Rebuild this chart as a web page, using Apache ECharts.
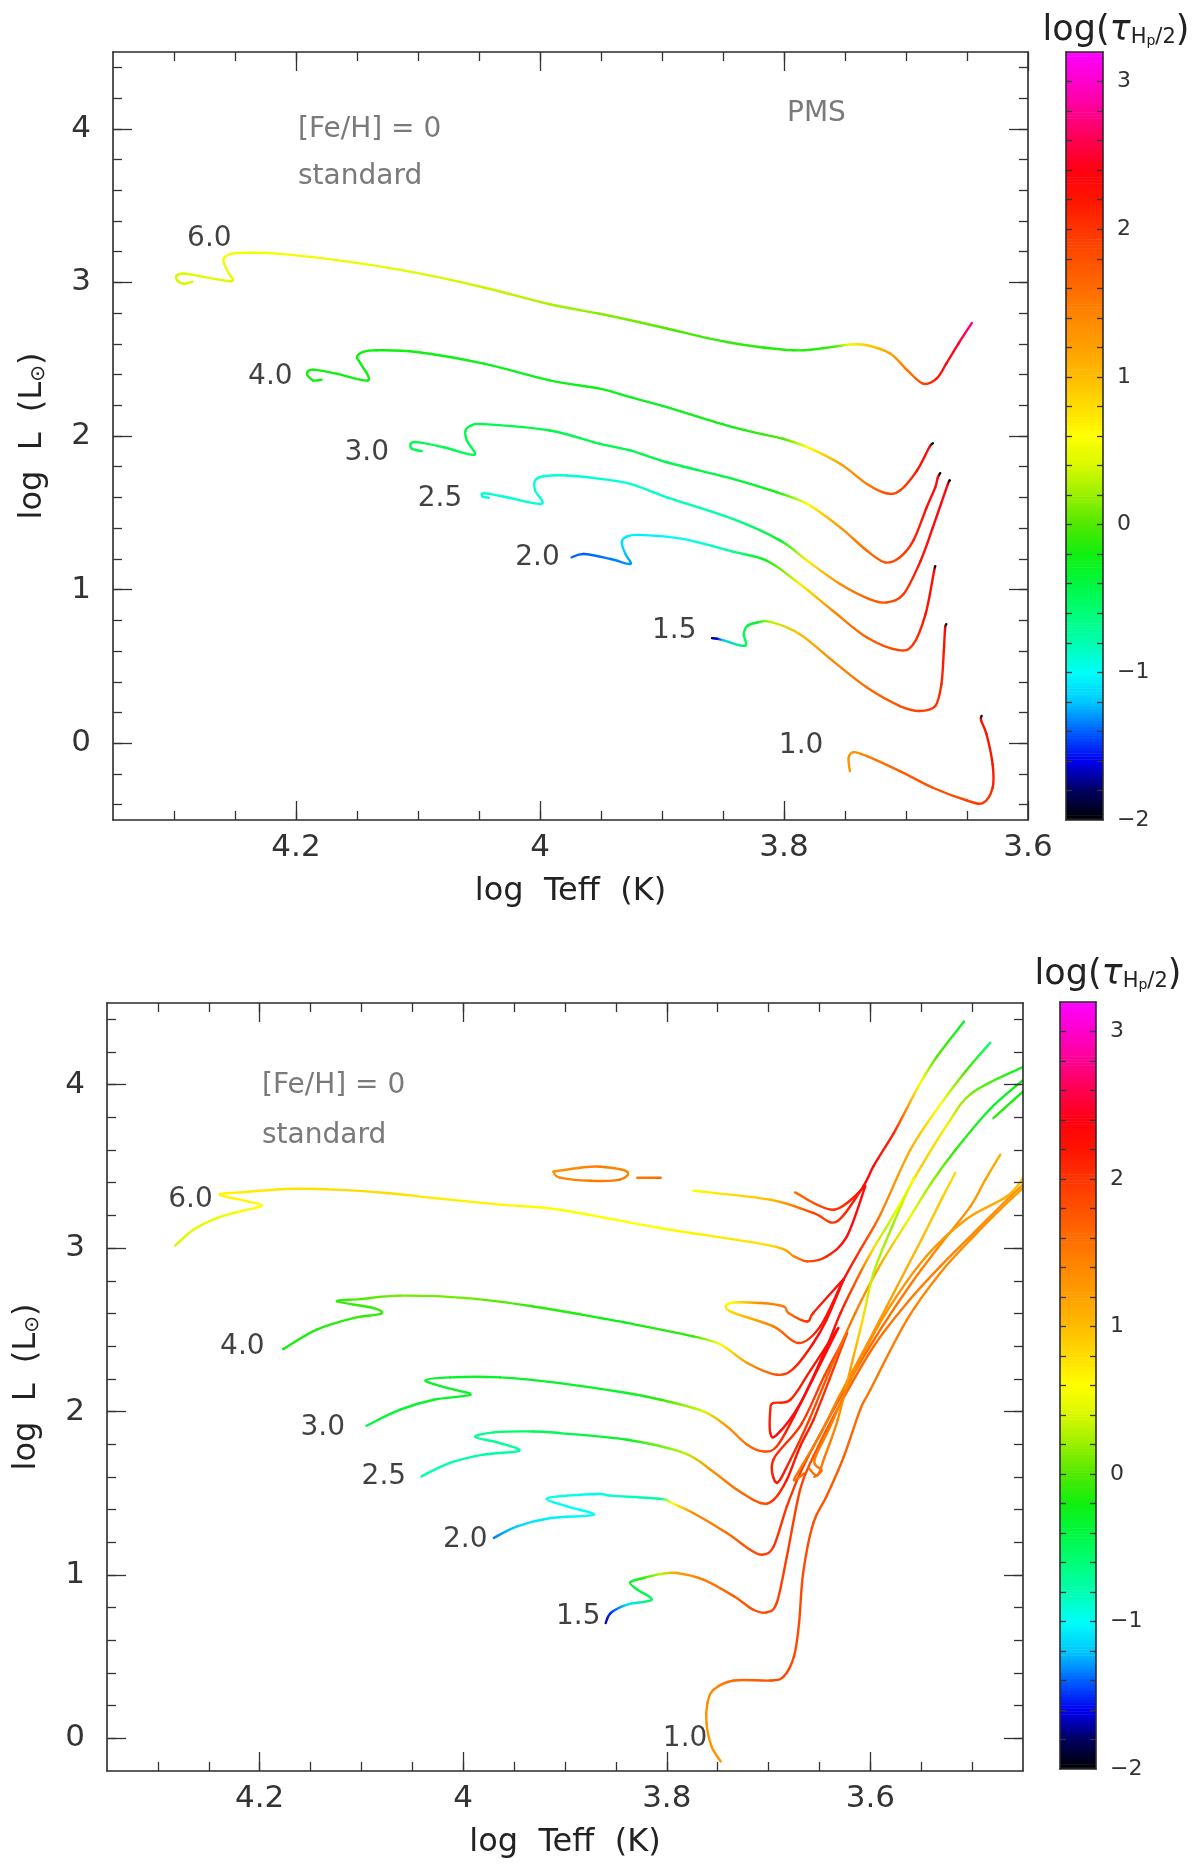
<!DOCTYPE html>
<html>
<head>
<meta charset="utf-8">
<title>Tracks coloured by log(tau Hp/2)</title>
<script src="https://cdn.jsdelivr.net/npm/echarts@6/dist/echarts.min.js"></script>
<style>
  html, body { margin: 0; padding: 0; background: #fff; }
  #chart { width: 1200px; height: 1865px; }
</style>
</head>
<body>
<div id="chart"></div>
<script>
// colour scale of log(tau_Hp/2): one stop every 0.2 from -2 to 3.2
var tauMin = -2, tauMax = 3.2;
var tauColors = ['#000000', '#000060', '#0000f0', '#0060ff', '#00c8ff', '#00fff8', '#00ffb0',
  '#00ff78', '#00f840', '#10f010', '#50e800', '#98f000', '#d8f800', '#ffff00', '#ffdc00',
  '#ffbc00', '#ffa000', '#ff8800', '#ff6c00', '#ff5000', '#ff3400', '#ff1400', '#ff0010',
  '#ff0050', '#ff0090', '#ff00cc', '#ff00ff'];

// tick labels
var xMajor = [3.6, 3.8, 4, 4.2];
var yMajor = [0, 1, 2, 3, 4];
var tauLabels = [-2, -1, 0, 1, 2, 3];

// mass labels and where they sit [log Teff, log L]
var massNames = ['6.0', '4.0', '3.0', '2.5', '2.0', '1.5', '1.0'];
var pmsLabelPos = [[4.271, 3.287], [4.221, 2.384], [4.142, 1.888], [4.082, 1.591], [4.002, 1.206], [3.890, 0.732], [3.786, -0.019]];
var msLabelPos = [[4.268, 3.296], [4.217, 2.398], [4.138, 1.903], [4.078, 1.603], [3.998, 1.215], [3.887, 0.746], [3.782, -0.004]];

// ---- top panel, PMS tracks: [log Teff, log L, log tau] ----
var pms60 = [[3.646, 2.736, 2.75], [3.657, 2.602, 2.5], [3.667, 2.471, 2.35], [3.675, 2.373, 2.2], [3.686, 2.341, 1.9],
  [3.699, 2.428, 1.5], [3.713, 2.537, 1.2], [3.732, 2.591, 0.9], [3.747, 2.595, 0.5], [3.760, 2.580, -0.1],
  [3.792, 2.558, -0.15], [3.847, 2.612, -0.1], [3.896, 2.700, 0.0], [3.926, 2.754, 0.1], [3.951, 2.796, 0.15],
  [3.992, 2.858, 0.25], [4.046, 2.967, 0.35], [4.101, 3.062, 0.45], [4.156, 3.134, 0.5], [4.210, 3.184, 0.55],
  [4.238, 3.193, 0.55], [4.253, 3.186, 0.55], [4.259, 3.160, 0.55], [4.259, 3.124, 0.5], [4.255, 3.058, 0.5],
  [4.253, 3.008, 0.45], [4.276, 3.036, 0.45], [4.292, 3.058, 0.45], [4.298, 3.043, 0.4], [4.297, 3.010, 0.4],
  [4.292, 2.991, 0.4], [4.285, 3.004, 0.4]];
var pms40 = [[3.678, 1.953, -2], [3.681, 1.925, 2.3], [3.691, 1.775, 2.2], [3.705, 1.645, 1.9], [3.716, 1.627, 1.8],
  [3.732, 1.688, 1.5], [3.754, 1.819, 1.2], [3.781, 1.927, 0.6], [3.801, 1.982, 0.0], [3.842, 2.058, -0.2],
  [3.896, 2.188, -0.25], [3.926, 2.253, -0.25], [3.951, 2.308, -0.25], [3.992, 2.362, -0.25], [4.046, 2.471, -0.25],
  [4.101, 2.547, -0.2], [4.134, 2.558, -0.2], [4.145, 2.547, -0.2], [4.150, 2.514, -0.2], [4.147, 2.471, -0.2],
  [4.141, 2.362, -0.2], [4.167, 2.406, -0.2], [4.186, 2.432, -0.2], [4.191, 2.406, -0.2], [4.186, 2.362, -0.2],
  [4.179, 2.367, -0.2]];
var pms30 = [[3.672, 1.758, -2], [3.674, 1.728, 2.3], [3.676, 1.666, 2.3], [3.683, 1.536, 2.25], [3.694, 1.319, 2.1],
  [3.705, 1.211, 1.9], [3.717, 1.177, 1.8], [3.732, 1.253, 1.6], [3.754, 1.405, 1.3], [3.781, 1.558, 0.6],
  [3.806, 1.634, -0.2], [3.842, 1.721, -0.4], [3.896, 1.829, -0.45], [3.926, 1.906, -0.45], [3.951, 1.949, -0.45],
  [3.992, 2.036, -0.45], [4.046, 2.077, -0.45], [4.056, 2.069, -0.45], [4.061, 2.036, -0.45], [4.060, 1.971, -0.45],
  [4.054, 1.878, -0.45], [4.079, 1.927, -0.45], [4.101, 1.960, -0.45], [4.106, 1.949, -0.45], [4.105, 1.917, -0.45],
  [4.097, 1.901, -0.45]];
var pms25 = [[3.664, 1.710, -2], [3.666, 1.680, 2.3], [3.678, 1.405, 2.3], [3.688, 1.188, 2.2], [3.702, 0.971, 2.0],
  [3.716, 0.916, 1.8], [3.730, 0.938, 1.7], [3.754, 1.036, 1.4], [3.781, 1.188, 0.7], [3.803, 1.319, -0.3],
  [3.842, 1.460, -0.7], [3.896, 1.601, -0.85], [3.926, 1.688, -0.9], [3.951, 1.721, -0.9], [3.978, 1.743, -0.9],
  [3.997, 1.738, -0.9], [4.004, 1.710, -0.9], [4.004, 1.645, -0.9], [3.999, 1.558, -0.9], [4.030, 1.606, -0.9],
  [4.046, 1.627, -0.9], [4.047, 1.606, -0.9], [4.042, 1.597, -0.9]];
var pms20 = [[3.676, 1.151, -2], [3.677, 1.120, 2.3], [3.684, 0.840, 2.2], [3.694, 0.645, 2.0], [3.706, 0.606, 1.9],
  [3.732, 0.688, 1.7], [3.760, 0.862, 1.4], [3.787, 1.036, 0.7], [3.814, 1.188, -0.2], [3.842, 1.247, -0.7],
  [3.883, 1.330, -1.0], [3.918, 1.356, -1.05], [3.929, 1.345, -1.05], [3.933, 1.308, -1.1], [3.930, 1.232, -1.2],
  [3.926, 1.167, -1.3], [3.942, 1.199, -1.35], [3.964, 1.232, -1.4], [3.974, 1.210, -1.4]];
var pms15 = [[3.667, 0.775, -2], [3.668, 0.745, 2.3], [3.669, 0.601, 2.2], [3.671, 0.384, 2.1], [3.676, 0.242, 2.0],
  [3.689, 0.210, 1.9], [3.705, 0.242, 1.8], [3.732, 0.362, 1.6], [3.760, 0.536, 1.4], [3.787, 0.710, 1.0],
  [3.811, 0.790, 0.3], [3.822, 0.786, -0.3], [3.830, 0.764, -0.4], [3.833, 0.710, -0.5], [3.832, 0.634, -0.5],
  [3.850, 0.671, -1.2], [3.855, 0.680, -1.6], [3.859, 0.684, -1.8]];
var pms10 = [[3.638, 0.177, -2], [3.6385, 0.150, 2.2], [3.634, 0.058, 2.2], [3.629, -0.138, 2.2], [3.629, -0.290, 2.1],
  [3.637, -0.389, 2.0], [3.650, -0.373, 1.9], [3.678, -0.290, 1.8], [3.705, -0.182, 1.7], [3.732, -0.084, 1.5],
  [3.743, -0.058, 1.3], [3.747, -0.095, 1.3], [3.746, -0.182, 1.3]];

// ---- bottom panel, MS and later: [log Teff, log L, log tau] ----
var ms60 = [[4.283, 3.015, 0.4], [4.265, 3.113, 0.45], [4.242, 3.184, 0.5], [4.219, 3.225, 0.55], [4.198, 3.259, 0.6],
  [4.212, 3.286, 0.65], [4.239, 3.327, 0.65], [4.219, 3.341, 0.7], [4.173, 3.362, 0.75], [4.127, 3.358, 0.8],
  [4.075, 3.337, 0.8], [4.029, 3.307, 0.7], [3.964, 3.266, 0.65], [3.905, 3.235, 0.6], [3.807, 3.123, 0.6],
  [3.698, 3.015, 0.8], [3.675, 2.949, 1.4], [3.662, 2.919, 1.8], [3.643, 2.949, 2.1], [3.623, 3.072, 2.3],
  [3.605, 3.378, 2.3]];
var ms60LoopA = [[3.605, 3.378, 2.3], [3.636, 3.235, 2.0], [3.674, 3.341, 1.6]];
var ms60LoopB = [[3.9115, 3.468, 1.3], [3.885, 3.492, 1.4], [3.865, 3.498, 1.5], [3.839, 3.468, 1.4], [3.846, 3.419, 1.5],
  [3.875, 3.412, 1.5], [3.905, 3.431, 1.4], [3.9115, 3.468, 1.3]];
var ms60Dash = [[3.829, 3.431, 1.5], [3.806, 3.431, 1.6]];
var ms60LoopC = [[3.774, 3.351, 0.6], [3.698, 3.296, 1.0], [3.656, 3.215, 1.9], [3.633, 3.163, 2.0], [3.607, 3.378, 2.3],
  [3.597, 3.500, 2.3], [3.577, 3.704, 2.1], [3.564, 3.857, 1.3], [3.551, 4.010, 0.6], [3.5345, 4.173, 0.0],
  [3.508, 4.387, -0.3]];
var ms40 = [[4.177, 2.382, -0.2], [4.144, 2.501, -0.15], [4.108, 2.572, -0.1], [4.081, 2.598, -0.1], [4.088, 2.633, -0.1],
  [4.124, 2.674, -0.1], [4.101, 2.688, 0.0], [4.062, 2.709, 0.1], [3.996, 2.694, 0.1], [3.931, 2.643, -0.1],
  [3.865, 2.572, -0.2], [3.839, 2.542, -0.2], [3.774, 2.460, -0.1], [3.747, 2.409, 0.6], [3.721, 2.297, 1.3],
  [3.692, 2.225, 1.8], [3.675, 2.266, 2.1], [3.656, 2.419, 2.3], [3.643, 2.562, 2.3], [3.6263, 2.807, 2.3]];
var ms40Loop = [[3.6263, 2.807, 2.3], [3.6295, 2.788, 2.3], [3.6558, 2.605, 2.1], [3.6622, 2.551, 2.0], [3.6804, 2.603, 1.6],
  [3.6853, 2.643, 1.5], [3.7081, 2.664, 1.4], [3.7376, 2.664, 0.6], [3.7376, 2.613, 0.8], [3.6953, 2.521, 1.5],
  [3.6705, 2.419, 1.9], [3.6492, 2.521, 2.2], [3.6263, 2.807, 2.3], [3.6099, 2.990, 2.0], [3.5902, 3.205, 1.5],
  [3.5607, 3.602, 1.1], [3.5313, 3.878, 0.6], [3.5067, 4.080, 0.0], [3.4822, 4.257, -0.6]];
var ms30 = [[4.095, 1.913, -0.4], [4.062, 2.011, -0.35], [4.029, 2.072, -0.3], [3.993, 2.103, -0.3], [4.016, 2.144, -0.3],
  [4.037, 2.190, -0.3], [4.013, 2.209, -0.3], [3.964, 2.209, -0.3], [3.905, 2.174, -0.3], [3.839, 2.113, -0.3],
  [3.806, 2.072, -0.1], [3.764, 2.001, 0.4], [3.741, 1.909, 1.3], [3.721, 1.797, 1.6], [3.705, 1.756, 1.8],
  [3.692, 1.786, 2.0], [3.675, 1.970, 2.3], [3.6315, 2.511, 2.3]];
var ms30Loop = [[3.6315, 2.511, 2.3], [3.659, 2.250, 2.2], [3.6786, 2.072, 2.1], [3.6953, 2.052, 2.1], [3.6983, 2.011, 2.1],
  [3.6983, 1.868, 2.2], [3.6917, 1.858, 2.3], [3.6688, 2.050, 2.3], [3.6426, 2.400, 2.3], [3.6295, 2.600, 2.2],
  [3.6099, 2.850, 1.6], [3.5968, 3.000, 0.8], [3.585, 3.120, 0.3], [3.570, 3.280, 0.6], [3.550, 3.500, 0.9],
  [3.525, 3.750, 0.7], [3.500, 3.950, 0.1], [3.4497, 4.110, -0.3]];
var ms25 = [[4.041, 1.603, -0.8], [4.013, 1.685, -0.8], [3.980, 1.736, -0.75], [3.945, 1.760, -0.75], [3.964, 1.807, -0.7],
  [3.988, 1.844, -0.7], [3.970, 1.872, -0.6], [3.931, 1.878, -0.5], [3.905, 1.868, -0.45], [3.839, 1.827, -0.3],
  [3.783, 1.746, 0.3], [3.757, 1.644, 1.3], [3.731, 1.521, 1.6], [3.708, 1.440, 1.8], [3.695, 1.460, 2.0],
  [3.682, 1.583, 2.2], [3.669, 1.786, 2.2], [3.6558, 1.950, 2.1], [3.640, 2.200, 2.0], [3.6229, 2.480, 1.9]];
var ms25Loop = [[3.6229, 2.480, 1.9], [3.645, 2.220, 1.9], [3.668, 1.920, 2.0], [3.6953, 1.705, 2.1], [3.6917, 1.564, 2.2],
  [3.6786, 1.705, 2.1], [3.660, 1.950, 1.9], [3.640, 2.250, 1.7], [3.615, 2.600, 1.5], [3.590, 2.900, 1.1],
  [3.560, 3.200, 0.5], [3.540, 3.400, 0.2], [3.5165, 3.600, -0.1], [3.4825, 3.850, -0.3], [3.4497, 4.030, -0.2]];
var ms20 = [[3.970, 1.226, -1.35], [3.947, 1.297, -1.15], [3.914, 1.348, -1.05], [3.872, 1.368, -1.0], [3.898, 1.419, -1.0],
  [3.918, 1.465, -0.95], [3.898, 1.485, -0.95], [3.865, 1.495, -0.95], [3.855, 1.485, -0.9], [3.806, 1.465, -0.7],
  [3.795, 1.440, 0.6], [3.774, 1.379, 1.4], [3.741, 1.256, 1.6], [3.718, 1.154, 1.8], [3.706, 1.124, 1.9],
  [3.695, 1.174, 2.0], [3.682, 1.419, 2.0], [3.669, 1.623, 2.0], [3.6558, 1.787, 1.9], [3.6197, 2.195, 1.7],
  [3.5902, 2.501, 1.6], [3.5607, 2.776, 1.5], [3.5313, 3.021, 1.4], [3.5018, 3.254, 1.3], [3.487, 3.419, 1.2],
  [3.4723, 3.572, 1.1]];
var ms20He = [[3.665, 1.620, 1.6], [3.675, 1.580, 1.6], [3.668, 1.660, 1.5], [3.650, 1.850, 1.5], [3.630, 2.100, 1.4],
  [3.600, 2.450, 1.3], [3.575, 2.750, 1.2], [3.550, 3.050, 1.0], [3.530, 3.300, 0.9], [3.5165, 3.461, 0.8]];
var ms20Top = [[3.479, 3.796, -0.1], [3.4497, 3.960, -0.2]];
var ms15 = [[3.860, 0.706, -1.7], [3.855, 0.767, -1.5], [3.839, 0.818, -1.1], [3.815, 0.848, -0.5], [3.829, 0.910, -0.4],
  [3.836, 0.954, -0.3], [3.823, 0.981, -0.1], [3.806, 1.005, 0.3], [3.790, 1.012, 1.2], [3.764, 0.971, 1.5],
  [3.734, 0.869, 1.7], [3.715, 0.787, 1.8], [3.702, 0.771, 1.85], [3.692, 0.828, 1.9], [3.682, 1.113, 1.95],
  [3.669, 1.522, 1.9], [3.656, 1.725, 1.8], [3.6328, 2.011, 1.7], [3.5968, 2.398, 1.6], [3.564, 2.664, 1.5],
  [3.5313, 2.888, 1.45], [3.4985, 3.092, 1.4], [3.4658, 3.296, 1.35], [3.4497, 3.390, 1.3]];
var ms15He = [[3.660, 1.650, 1.6], [3.652, 1.610, 1.6], [3.645, 1.720, 1.5], [3.632, 1.950, 1.4], [3.618, 2.300, 1.2],
  [3.608, 2.550, 0.8], [3.5968, 2.848, 0.3], [3.578, 3.140, 0.2], [3.5575, 3.431, 0.6]];
var ms10 = [[3.747, -0.141, 1.3], [3.756, -0.050, 1.3], [3.761, 0.094, 1.3], [3.760, 0.216, 1.35], [3.754, 0.298, 1.4],
  [3.734, 0.354, 1.6], [3.698, 0.354, 1.8], [3.685, 0.379, 1.85], [3.675, 0.501, 1.85], [3.670, 0.706, 1.85],
  [3.666, 1.012, 1.85], [3.656, 1.318, 1.8], [3.643, 1.481, 1.75], [3.626, 1.725, 1.7], [3.610, 2.011, 1.6],
  [3.600, 2.133, 1.55], [3.564, 2.562, 1.45], [3.5313, 2.848, 1.4], [3.4985, 3.072, 1.35], [3.4658, 3.276, 1.3],
  [3.4497, 3.368, 1.2]];
var ms10He = [[3.655, 1.600, 1.6], [3.648, 1.640, 1.6], [3.655, 1.700, 1.5], [3.640, 1.900, 1.5], [3.615, 2.250, 1.4],
  [3.585, 2.600, 1.3], [3.545, 2.950, 1.3], [3.505, 3.180, 1.2], [3.466, 3.316, 1.1], [3.4497, 3.430, 0.9]];

var pmsTracks = [pms60, pms40, pms30, pms25, pms20, pms15, pms10];
var msTracks = [ms60, ms60LoopA, ms60LoopB, ms60Dash, ms60LoopC, ms40, ms40Loop, ms30, ms30Loop,
  ms25, ms25Loop, ms20, ms20He, ms20Top, ms15, ms15He, ms10, ms10He];

// ---------------------------------------------------------------
var font = 'DejaVu Sans';
var lineCol = '#2a2a2a';
var tickCol = '#333';

function steps(a, b, d) {
  var out = [];
  for (var v = a; v <= b + 1e-9; v += d) out.push(Math.round(v * 100) / 100);
  return out;
}
function fmtNum(v) {
  return v < 0 ? '\u2212' + (-v) : String(v);
}

// flatten tracks into points carrying their track id in dim 3
function flatten(tracks) {
  var out = [];
  tracks.forEach(function (t, k) {
    t.forEach(function (p) { out.push([p[0], p[1], p[2], k]); });
  });
  return out;
}

// colorbar samples, dim 2 is the value fed to the visualMap
var barSamples = steps(tauMin, tauMax, 0.02).map(function (v) { return [0, v, v]; });

// smooth segment from point i to point i+1 (Catmull-Rom as a bezier),
// coloured from the visualMap at both ends
function drawTrack(params, api) {
  var i = params.dataIndexInside, n = params.dataInsideLength;
  if (i + 1 >= n) return;
  var id = api.value(3, i);
  if (api.value(3, i + 1) !== id) return;
  function pt(k) { return api.coord([api.value(0, k), api.value(1, k)]); }
  var p1 = pt(i), p2 = pt(i + 1);
  var p0 = (i > 0 && api.value(3, i - 1) === id) ? pt(i - 1) : p1;
  var p3 = (i + 2 < n && api.value(3, i + 2) === id) ? pt(i + 2) : p2;
  var c0 = api.visual('color', i), c1 = api.visual('color', i + 1);
  return {
    type: 'bezierCurve',
    shape: {
      x1: p1[0], y1: p1[1], x2: p2[0], y2: p2[1],
      cpx1: p1[0] + (p2[0] - p0[0]) / 6, cpy1: p1[1] + (p2[1] - p0[1]) / 6,
      cpx2: p2[0] - (p3[0] - p1[0]) / 6, cpy2: p2[1] - (p3[1] - p1[1]) / 6
    },
    style: {
      fill: null,
      stroke: new echarts.graphic.LinearGradient(p1[0], p1[1], p2[0], p2[1],
        [{ offset: 0, color: c0 }, { offset: 1, color: c1 }], true),
      lineWidth: 2.4,
      lineCap: 'round'
    }
  };
}

function drawBar(params, api) {
  var v = api.value(1);
  var hi = Math.min(tauMax, v + 0.012), lo = Math.max(tauMin, v - 0.012);
  var p0 = api.coord([0, hi]), p1 = api.coord([1, lo]);
  return {
    type: 'rect',
    shape: { x: p0[0], y: p0[1], width: p1[0] - p0[0], height: p1[1] - p0[1] },
    style: { fill: api.visual('color') }
  };
}

function valAxis(o) {
  var a = {
    type: 'value', gridIndex: o.g, min: o.min, max: o.max, inverse: !!o.inverse,
    position: o.pos, z: 10,
    axisLine: { show: !!o.line, onZero: false, lineStyle: { color: lineCol, width: 1.6 } },
    axisTick: o.ticks ? { show: true, inside: true, length: o.len, customValues: o.ticks,
      lineStyle: { color: tickCol, width: 1.3 } } : { show: false },
    axisLabel: o.labels ? { show: true, customValues: o.labels, margin: o.margin, fontSize: o.fs || 31,
      color: '#333', fontFamily: font, formatter: fmtNum } : { show: false },
    splitLine: { show: false }
  };
  if (o.name) {
    a.name = o.name;
    a.nameLocation = 'middle';
    a.nameGap = o.nameGap;
    a.nameTextStyle = o.nameStyle;
  }
  return a;
}

var xNameStyle = { fontSize: 32, color: '#222', fontFamily: font };
var yNameStyle = {
  fontSize: 32, color: '#222', fontFamily: font,
  rich: {
    a: { fontSize: 32, lineHeight: 40, verticalAlign: 'bottom', color: '#222', fontFamily: font },
    b: { fontSize: 20, lineHeight: 18, verticalAlign: 'bottom', color: '#222', fontFamily: font }
  }
};
var xName = 'log  Teff  (K)';
var yName = '{a|log  L  (L}{b|\u2299}{a|)}';

function panel(g, xMin, xMax, yMin, yMax, xMinor, yMinor) {
  return {
    x: [
      valAxis({ g: g, min: xMin, max: xMax, inverse: true, pos: 'bottom', line: true, ticks: xMajor, len: 19,
        labels: xMajor, margin: 12, name: xName, nameGap: 56, nameStyle: xNameStyle }),
      valAxis({ g: g, min: xMin, max: xMax, inverse: true, pos: 'bottom', ticks: xMinor, len: 9 }),
      valAxis({ g: g, min: xMin, max: xMax, inverse: true, pos: 'top', line: true, ticks: xMajor, len: 19 }),
      valAxis({ g: g, min: xMin, max: xMax, inverse: true, pos: 'top', ticks: xMinor, len: 9 })
    ],
    y: [
      valAxis({ g: g, min: yMin, max: yMax, pos: 'left', line: true, ticks: yMajor, len: 19,
        labels: yMajor, margin: 22, name: yName, nameGap: 64, nameStyle: yNameStyle }),
      valAxis({ g: g, min: yMin, max: yMax, pos: 'left', ticks: yMinor, len: 9 }),
      valAxis({ g: g, min: yMin, max: yMax, pos: 'right', line: true, ticks: yMajor, len: 19 }),
      valAxis({ g: g, min: yMin, max: yMax, pos: 'right', ticks: yMinor, len: 9 })
    ]
  };
}

function barAxes(g) {
  var t = steps(-1.8, 3.0, 0.2);
  return {
    x: [
      valAxis({ g: g, min: 0, max: 1, pos: 'bottom', line: true }),
      valAxis({ g: g, min: 0, max: 1, pos: 'top', line: true })
    ],
    y: [
      valAxis({ g: g, min: tauMin, max: tauMax, pos: 'left', line: true, ticks: t, len: 6 }),
      valAxis({ g: g, min: tauMin, max: tauMax, pos: 'right', line: true, ticks: t, len: 6,
        labels: tauLabels, margin: 14, fs: 22 })
    ]
  };
}

var topAxes = panel(0, 3.6, 4.35, -0.5, 4.5, steps(3.65, 4.3, 0.05), steps(-0.4, 4.4, 0.2));
var botAxes = panel(1, 3.45, 4.35, -0.2, 4.5, steps(3.5, 4.3, 0.05), steps(0, 4.4, 0.2));
var cbTopAxes = barAxes(2);
var cbBotAxes = barAxes(3);

function labelSeries(xi, pos) {
  return {
    type: 'scatter', xAxisIndex: xi, yAxisIndex: xi, symbolSize: 0, silent: true, z: 5,
    data: massNames.map(function (n, k) { return { name: n, value: pos[k] }; }),
    label: { show: true, position: 'inside', formatter: '{b}', fontSize: 28, color: '#111', fontFamily: font }
  };
}

function grayText(x, y, s) {
  return { type: 'text', x: x, y: y, z: 20,
    style: { text: s, fontSize: 28, fontFamily: font, fill: '#7a7a7a', align: 'left', verticalAlign: 'middle' } };
}
function barTitle(x, y) {
  return { type: 'text', x: x, y: y, z: 20,
    style: {
      text: '{a|log(}{t|\u03c4}{s|H}{p|p}{s|/2}{a|)}',
      align: 'center', verticalAlign: 'middle',
      rich: {
        a: { fontSize: 35, lineHeight: 42, verticalAlign: 'bottom', fill: '#222', fontFamily: font },
        t: { fontSize: 35, lineHeight: 42, verticalAlign: 'bottom', fill: '#222', fontFamily: font, fontStyle: 'italic' },
        s: { fontSize: 21, lineHeight: 22, verticalAlign: 'bottom', fill: '#222', fontFamily: font },
        p: { fontSize: 14, lineHeight: 10, verticalAlign: 'bottom', fill: '#222', fontFamily: font }
      }
    } };
}

var chart = echarts.init(document.getElementById('chart'), null, { renderer: 'canvas' });
chart.setOption({
  backgroundColor: '#fff',
  animation: false,
  grid: [
    { left: 113, top: 52, width: 915, height: 768, outerBoundsMode: 'none' },
    { left: 107, top: 1003, width: 916, height: 768, outerBoundsMode: 'none' },
    { left: 1066, top: 52, width: 37, height: 768, outerBoundsMode: 'none' },
    { left: 1060, top: 1002, width: 36, height: 767, outerBoundsMode: 'none' }
  ],
  xAxis: topAxes.x.concat(botAxes.x, cbTopAxes.x, cbBotAxes.x),
  yAxis: topAxes.y.concat(botAxes.y, cbTopAxes.y, cbBotAxes.y),
  visualMap: {
    type: 'continuous', show: false, min: tauMin, max: tauMax, dimension: 2,
    seriesIndex: [0, 1, 2, 3],
    inRange: { color: tauColors }
  },
  series: [
    { type: 'custom', name: 'PMS', xAxisIndex: 0, yAxisIndex: 0, clip: true, silent: true,
      renderItem: drawTrack, data: flatten(pmsTracks) },
    { type: 'custom', name: 'MS', xAxisIndex: 4, yAxisIndex: 4, clip: true, silent: true,
      renderItem: drawTrack, data: flatten(msTracks) },
    { type: 'custom', name: 'bar top', xAxisIndex: 8, yAxisIndex: 8, silent: true,
      renderItem: drawBar, data: barSamples },
    { type: 'custom', name: 'bar bottom', xAxisIndex: 10, yAxisIndex: 10, silent: true,
      renderItem: drawBar, data: barSamples },
    labelSeries(0, pmsLabelPos),
    labelSeries(4, msLabelPos)
  ],
  graphic: [
    grayText(298, 130, '[Fe/H] = 0'),
    grayText(298, 177, 'standard'),
    grayText(787, 114, 'PMS'),
    grayText(262, 1086, '[Fe/H] = 0'),
    grayText(262, 1136, 'standard'),
    barTitle(1116, 27),
    barTitle(1108, 971)
  ]
});
</script>
</body>
</html>
